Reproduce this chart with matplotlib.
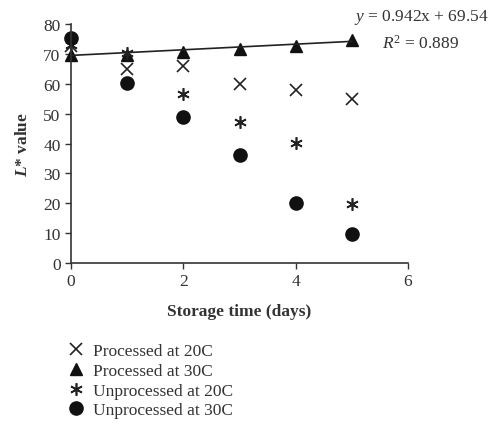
import matplotlib
matplotlib.use("Agg")
import matplotlib.pyplot as plt
import numpy as np

plt.rcParams['font.family'] = ['Liberation Serif', 'DejaVu Serif']
plt.rcParams['mathtext.fontset'] = 'custom'
plt.rcParams['mathtext.rm'] = 'Liberation Serif'
plt.rcParams['mathtext.it'] = 'Liberation Serif:italic'
plt.rcParams['mathtext.bfit'] = 'Liberation Serif:italic:bold'

days = [0, 1, 2, 3, 4, 5]
proc_20 = [72.8, 65.0, 66.0, 60.0, 57.8, 55.0]
proc_30 = [69.6, 69.6, 70.8, 71.7, 72.8, 74.6]
unproc_20 = [73.0, 70.5, 56.6, 47.1, 40.3, 19.8]
unproc_30 = [75.5, 60.2, 49.0, 36.0, 20.1, 9.8]

slope, intercept = 0.942, 69.54
r2 = 0.889

txt = "#333333"

fig = plt.figure(figsize=(5.0, 4.27), dpi=100)
ax = fig.add_axes([0.142, 0.382, 0.674, 0.559])

ax.plot(days, proc_20, linestyle="none", marker="x", color="#222222",
        markersize=9, markeredgewidth=1.2, label="Processed at 20C", clip_on=False)
ax.plot(days, proc_30, linestyle="none", marker="^", color="#111111",
        markersize=9, label="Processed at 30C", clip_on=False)
ax.plot(days, unproc_20, linestyle="none", marker=(6, 2, 0), color="#222222",
        markersize=9, markeredgewidth=1.2, label="Unprocessed at 20C", clip_on=False)
ax.plot(days, unproc_30, linestyle="none", marker="o", color="#111111",
        markersize=9.5, label="Unprocessed at 30C", clip_on=False)

# linear trend for processed at 30C
xs = np.array([days[0], days[-1]])
ax.plot(xs, slope * xs + intercept, color="#222222", linewidth=1.2)

fig.text(0.708, 0.958, f"$y$ = {slope}x + {intercept}",
         ha="left", va="center", fontsize=12.5, color=txt)
fig.text(0.765, 0.898, f"$R^2$ = {r2}",
         ha="left", va="center", fontsize=12.5, color=txt)

ax.set_xlim(0, 6)
ax.set_ylim(0, 80)
ax.set_xticks([0, 2, 4, 6])
ax.set_yticks(range(0, 81, 10))
ax.tick_params(colors=txt, labelsize=12.5, length=4, width=1)
for s in ["top", "right"]:
    ax.spines[s].set_visible(False)
for s in ["left", "bottom"]:
    ax.spines[s].set_color("#333333")
    ax.spines[s].set_linewidth(1.2)

ax.set_xlabel("Storage time (days)", fontsize=12.5, fontweight="bold", color=txt, labelpad=10)
ax.set_ylabel("$\\mathbfit{L}$* value", fontsize=12.5, fontweight="bold", color=txt, labelpad=9)

fig.legend(loc="upper left", bbox_to_anchor=(0.12, 0.21), frameon=False,
           fontsize=12.5, labelcolor=txt, handlelength=1.0, handletextpad=0.5,
           labelspacing=0.2, borderaxespad=0)

fig.savefig("out.png", dpi=100)
